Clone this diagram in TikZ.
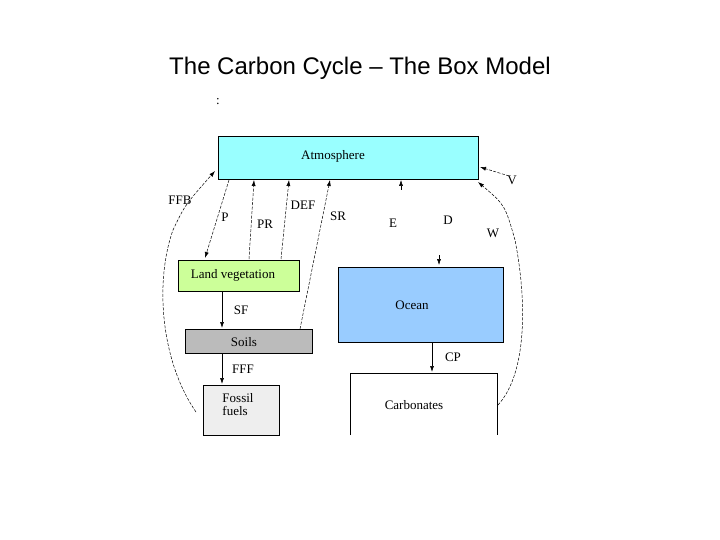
\documentclass[tikz,border=0pt]{standalone}
\usepackage{fontspec}
\usetikzlibrary{arrows.meta}
\setmainfont{Liberation Serif}
\newfontfamily\titlefont{Liberation Sans}
\begin{document}
\begin{tikzpicture}[x=1pt,y=-1pt,
  lbl/.style={font=\fontsize{13}{13}\selectfont},
  tip/.style={-{Latex[length=6pt,width=4pt]}},
  flow/.style={dashed,dash pattern=on 3pt off 1.5pt,line width=0.5pt,tip},
  sflow/.style={line width=0.6pt,tip}]
\useasboundingbox (0,0) rectangle (720,540);
\node[font=\titlefont\fontsize{24}{24}\selectfont] (title) at (360,68) {The Carbon Cycle – The Box Model};
\node[lbl] (colon) at (218,102) {:};
\filldraw[fill={rgb,255:red,153;green,255;blue,255},line width=0.6pt] (218,136) rectangle (478,179);
\node[lbl] (atm) at (333,156) {Atmosphere};
\filldraw[fill={rgb,255:red,204;green,255;blue,153},line width=0.6pt] (178,260) rectangle (299,291);
\node[lbl] (veg) at (233,275) {Land vegetation};
\filldraw[fill={rgb,255:red,187;green,187;blue,187},line width=0.6pt] (185,329) rectangle (312,353);
\node[lbl] (soil) at (244,342) {Soils};
\filldraw[fill={rgb,255:red,238;green,238;blue,238},line width=0.6pt] (203,385) rectangle (279,435);
\node[lbl,align=left] (fos) at (238,405) {Fossil\\fuels};
\filldraw[fill={rgb,255:red,153;green,204;blue,255},line width=0.6pt] (338,267) rectangle (503,342);
\node[lbl] (ocean) at (412,305) {Ocean};
\fill[white] (350,373) rectangle (497,435);
\draw[line width=0.6pt] (350,435) -- (350,373) -- (497,373) -- (497,435);
\node[lbl] (carb) at (414,405) {Carbonates};
\coordinate (ffbS) at (196,412);
\coordinate (ffbE) at (215,171);
\coordinate (pS) at (229,180); \coordinate (pE) at (205,258);
\coordinate (prS) at (249,259); \coordinate (prE) at (254,180);
\coordinate (defS) at (281,259); \coordinate (defE) at (289,180);
\coordinate (srS) at (300,329); \coordinate (srE) at (330,180);
\coordinate (eS) at (401,190); \coordinate (eE) at (401,180);
\coordinate (dS) at (439,255); \coordinate (dE) at (439,265);
\coordinate (vS) at (509,176); \coordinate (vE) at (480,167);
\coordinate (wS) at (498,405); \coordinate (wE) at (478,182);
\draw[flow] (ffbS) .. controls (160,360) and (155,280) .. (173,230) .. controls (185,205) .. (ffbE);
\draw[flow] (pS) -- (pE);
\draw[flow] (prS) -- (prE);
\draw[flow] (defS) -- (defE);
\draw[flow] (srS) -- (srE);
\draw[tip,line width=0.5pt] (eS) -- (eE);
\draw[tip,line width=0.5pt] (dS) -- (dE);
\draw[flow] (vS) -- (vE);
\draw[flow] (wS) .. controls (530,370) and (525,290) .. (515,240) .. controls (505,205) .. (wE);
\draw[sflow] (222,291) -- (222,328);
\draw[sflow] (222,353) -- (222,384);
\draw[sflow] (432,342) -- (432,372);
\node[lbl] (lFFB) at (180,200) {FFB};
\node[lbl] (lP) at (225,217) {P};
\node[lbl] (lPR) at (265,224) {PR};
\node[lbl] (lDEF) at (303,205) {DEF};
\node[lbl] (lSR) at (338,216) {SR};
\node[lbl] (lE) at (393,223) {E};
\node[lbl] (lD) at (448,220) {D};
\node[lbl] (lW) at (493,233) {W};
\node[lbl] (lV) at (512,180) {V};
\node[lbl] (lSF) at (241,310) {SF};
\node[lbl] (lFFF) at (243,369) {FFF};
\node[lbl] (lCP) at (453,357) {CP};
\end{tikzpicture}
\end{document}
